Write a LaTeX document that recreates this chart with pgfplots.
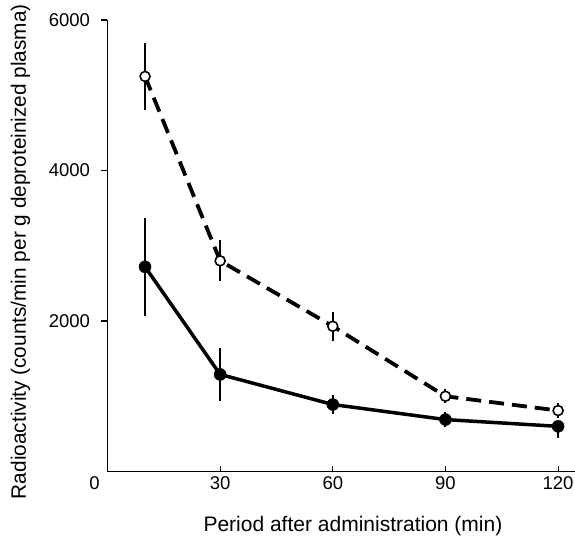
\documentclass[border=0pt]{standalone}
\usepackage{pgfplots}
\pgfplotsset{compat=1.18}
\usepackage{fontspec}
\setmainfont{Liberation Sans}
\begin{document}
\begin{tikzpicture}[font=\fontsize{18.5}{22}\selectfont]
\useasboundingbox (-107.5pt,-66.5pt) rectangle (467.5pt,471.5pt);
\begin{axis}[
  scale only axis,
  width=467.5pt, height=451.5pt,
  xmin=0, xmax=124.5, ymin=0, ymax=6000,
  axis lines=left,
  axis line style={line width=1.8pt, -},
  /pgf/number format/assume math mode=true,
  xtick={0,30,60,90,120},
  xticklabels={{0\hspace*{26pt}},30,60,90,120},
  ytick={2000,4000,6000},
  yticklabel style={/pgf/number format/set thousands separator={}, xshift=-8pt},
  xticklabel style={yshift=-2pt},
  x tick style={line width=1pt, black},
  y tick style={line width=1.2pt, black},
  xtick align=inside,
  ytick align=outside,
  major tick length=6pt,
  scaled y ticks=false,
  xlabel={Period after administration (min)},
  ylabel={Radioactivity (counts/min per g deproteinized plasma)},
  every axis x label/.style={at={(axis description cs:0.525,0)}, anchor=north, yshift=-41pt, font=\fontsize{21}{25}\selectfont},
  every axis y label/.style={at={(axis description cs:0,0.487)}, xshift=-86.9pt, anchor=center, rotate=90, font=\fontsize{20.8}{25}\selectfont},
  clip=false,
]
\addplot[black, line width=3.8pt, dash pattern=on 15pt off 8pt,
  mark=*, mark size=5pt, mark options={solid, fill=white, line width=1.6pt},
  error bars/.cd, y dir=both, y explicit,
  error bar style={line width=2pt, solid}, error mark=none]
coordinates {
  (10,5250) +- (0,440)
  (30,2800) +- (0,270)
  (60,1930) +- (0,190)
  (90,1000) +- (0,90)
  (120,810) +- (0,100)
};
\addplot[black, line width=3.5pt,
  mark=*, mark size=6pt, mark options={solid, fill=black, line width=0.5pt},
  error bars/.cd, y dir=both, y explicit,
  error bar style={line width=2pt, solid}, error mark=none]
coordinates {
  (10,2720) +- (0,650)
  (30,1290) +- (0,350)
  (60,890) +- (0,120)
  (90,690) +- (0,100)
  (120,600) += (0,60) -= (0,150)
};
\end{axis}
\end{tikzpicture}
\end{document}
